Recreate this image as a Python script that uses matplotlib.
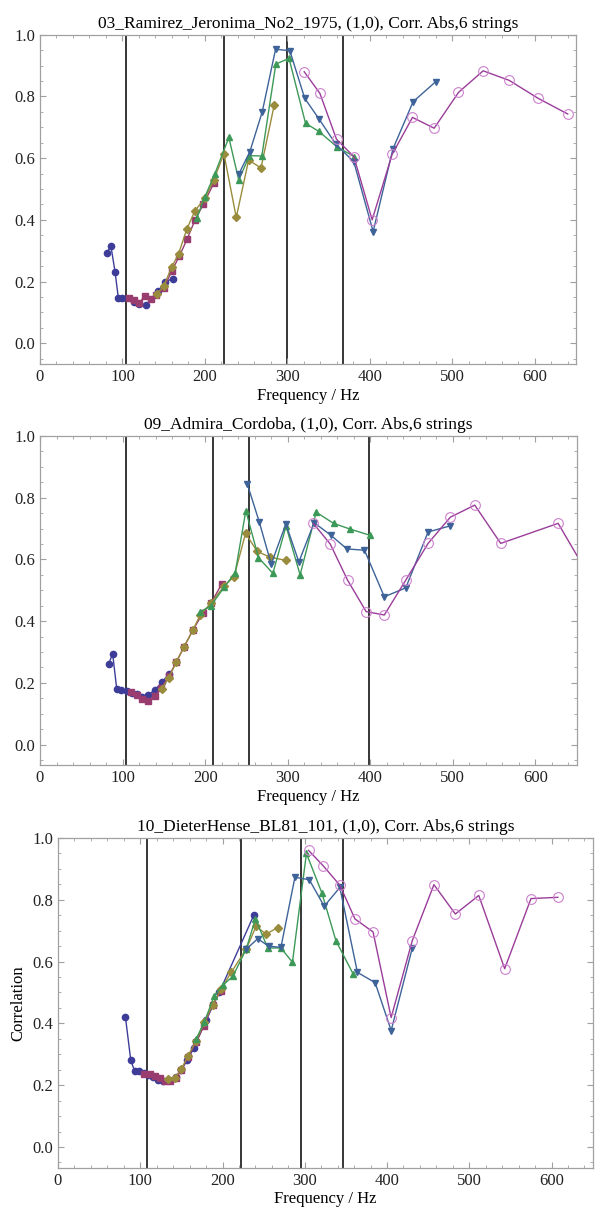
import numpy as np
import matplotlib
matplotlib.use("Agg")
import matplotlib.pyplot as plt
from matplotlib.ticker import MultipleLocator

plt.rcParams['font.family'] = ['Liberation Serif', 'DejaVu Serif']

titles = ["03_Ramirez_Jeronima_No2_1975, (1,0), Corr. Abs,6 strings",
          "09_Admira_Cordoba, (1,0), Corr. Abs,6 strings",
          "10_DieterHense_BL81_101, (1,0), Corr. Abs,6 strings"]

# string resonances (vertical lines), Hz
vlines_1 = [104.5, 223, 300, 368]
vlines_2 = [104.5, 210, 253.5, 398.5]
vlines_3 = [108, 223, 295, 347]

# ---- panel 1: 03_Ramirez ----
p1_s1_f = [81, 86, 91, 95, 100, 114, 120, 128, 143, 152, 161]
p1_s1_v = [0.294, 0.315, 0.232, 0.147, 0.147, 0.135, 0.127, 0.123, 0.168, 0.199, 0.21]
p1_s2_f = [108, 114, 120, 127, 134.5, 141, 150, 160, 169, 178.5, 188, 198, 211]
p1_s2_v = [0.147, 0.14, 0.13, 0.153, 0.142, 0.155, 0.178, 0.235, 0.283, 0.338, 0.40, 0.45, 0.52]
p1_s3_f = [142, 150, 160, 168, 178, 188, 200, 211, 223, 238, 253, 268, 284]
p1_s3_v = [0.16, 0.186, 0.248, 0.29, 0.37, 0.43, 0.47, 0.53, 0.615, 0.408, 0.594, 0.568, 0.772]
p1_s4_f = [190, 200, 212, 229, 241, 254, 269, 286, 302, 322, 338, 360, 381]
p1_s4_v = [0.405, 0.475, 0.549, 0.667, 0.529, 0.608, 0.607, 0.905, 0.923, 0.713, 0.687, 0.637, 0.605]
p1_s5_f = [241, 254.5, 269.5, 285.7, 303, 321, 338.6, 358.8, 380.6, 404, 428, 452.5, 480]
p1_s5_v = [0.548, 0.621, 0.75, 0.953, 0.948, 0.794, 0.726, 0.645, 0.588, 0.362, 0.63, 0.783, 0.848]
p1_s6_f = [320.4, 339.4, 359.6, 380.6, 402.8, 427, 451.7, 478, 507.5, 537.4, 569, 604, 640]
p1_s6_v = [0.88, 0.81, 0.661, 0.605, 0.40, 0.612, 0.732, 0.697, 0.813, 0.883, 0.852, 0.794, 0.743]

# ---- panel 2: 09_Admira ----
p2_s1_f = [83, 88, 93, 98, 105, 111, 117, 124, 131, 139, 148, 156]
p2_s1_v = [0.261, 0.294, 0.179, 0.178, 0.175, 0.168, 0.163, 0.155, 0.161, 0.177, 0.203, 0.229]
p2_s2_f = [110, 117, 124, 131, 139, 147, 156, 165, 174.5, 185, 197, 207, 220]
p2_s2_v = [0.171, 0.161, 0.149, 0.142, 0.158, 0.184, 0.222, 0.267, 0.317, 0.37, 0.425, 0.458, 0.52]
p2_s3_f = [147.5, 156, 165, 174.5, 185, 194, 207, 223, 235, 249, 263, 279, 298]
p2_s3_v = [0.18, 0.217, 0.267, 0.317, 0.37, 0.42, 0.458, 0.514, 0.544, 0.685, 0.626, 0.607, 0.597]
p2_s4_f = [194, 207, 223, 236.4, 249.3, 264.6, 282, 298, 315, 334.5, 355.5, 376, 400]
p2_s4_v = [0.43, 0.45, 0.51, 0.557, 0.758, 0.606, 0.555, 0.708, 0.55, 0.753, 0.717, 0.698, 0.678]
p2_s5_f = [251, 265.5, 280, 297.8, 313.5, 332, 352, 371.7, 393, 417, 443, 470, 497]
p2_s5_v = [0.845, 0.722, 0.585, 0.715, 0.592, 0.719, 0.679, 0.634, 0.63, 0.479, 0.508, 0.689, 0.709]
p2_s6_f = [331, 351.5, 372.5, 395, 417, 443, 470, 497, 526.5, 558, 627.5, 675]
p2_s6_v = [0.717, 0.65, 0.533, 0.431, 0.42, 0.533, 0.652, 0.737, 0.776, 0.652, 0.717, 0.50]

# ---- panel 3: 10_DieterHense ----
p3_s1_f = [82, 88.5, 93, 99, 104, 110, 116, 122, 128, 135, 143, 150, 157, 165, 180, 196, 238]
p3_s1_v = [0.42, 0.28, 0.247, 0.247, 0.238, 0.233, 0.226, 0.218, 0.212, 0.216, 0.225, 0.25, 0.28,
           0.32, 0.41, 0.50, 0.75]
p3_s2_f = [104.6, 111.5, 117.6, 123.6, 130, 136, 143, 150, 158, 168, 177, 188, 198]
p3_s2_v = [0.236, 0.235, 0.23, 0.222, 0.215, 0.215, 0.222, 0.25, 0.29, 0.34, 0.39, 0.46, 0.506]
p3_s3_f = [133.7, 141.8, 150, 158, 168, 178, 188, 198, 210.5, 228.7, 240.8, 253, 267]
p3_s3_v = [0.22, 0.222, 0.252, 0.295, 0.344, 0.406, 0.46, 0.51, 0.565, 0.64, 0.714, 0.689, 0.71]
p3_s4_f = [168, 178, 190, 201, 212.5, 228.7, 240, 255, 271, 285, 302, 320.8, 337.8, 358.8]
p3_s4_v = [0.35, 0.405, 0.49, 0.525, 0.552, 0.64, 0.738, 0.644, 0.644, 0.598, 0.95, 0.822, 0.668, 0.56]
p3_s5_f = [228.7, 242.8, 256, 271, 288, 305.5, 323.6, 342.6, 364, 385.5, 405, 430.7]
p3_s5_v = [0.64, 0.674, 0.65, 0.646, 0.873, 0.865, 0.779, 0.84, 0.565, 0.532, 0.377, 0.644]
p3_s6_f = [304.6, 322.4, 342.7, 361, 383, 405, 430.7, 457, 483, 511.5, 543, 575, 607.6]
p3_s6_v = [0.96, 0.91, 0.847, 0.738, 0.696, 0.419, 0.668, 0.849, 0.754, 0.814, 0.577, 0.804, 0.808]

c1 = (0.24, 0.24, 0.60)
c2 = (0.60, 0.24, 0.44)
c3 = (0.60, 0.55, 0.24)
c4 = (0.24, 0.60, 0.34)
c5 = (0.24, 0.39, 0.60)
c6 = (0.60, 0.24, 0.60)
c6m = (0.80, 0.50, 0.80)

panels = [
    (titles[0], vlines_1, [(p1_s1_f, p1_s1_v), (p1_s2_f, p1_s2_v), (p1_s3_f, p1_s3_v),
                           (p1_s4_f, p1_s4_v), (p1_s5_f, p1_s5_v), (p1_s6_f, p1_s6_v)],
     [40, 576, 34.7, 364], False),
    (titles[1], vlines_2, [(p2_s1_f, p2_s1_v), (p2_s2_f, p2_s2_v), (p2_s3_f, p2_s3_v),
                           (p2_s4_f, p2_s4_v), (p2_s5_f, p2_s5_v), (p2_s6_f, p2_s6_v)],
     [40, 576.7, 436, 765.3], False),
    (titles[2], vlines_3, [(p3_s1_f, p3_s1_v), (p3_s2_f, p3_s2_v), (p3_s3_f, p3_s3_v),
                           (p3_s4_f, p3_s4_v), (p3_s5_f, p3_s5_v), (p3_s6_f, p3_s6_v)],
     [58, 592.7, 838, 1167.7], True),
]

styles = [
    dict(color=c1, marker="o", ms=4.5, mec=c1, mfc=c1),
    dict(color=c2, marker="s", ms=4.0, mec=c2, mfc=c2),
    dict(color=c3, marker="D", ms=4.0, mec=c3, mfc=c3),
    dict(color=c4, marker="^", ms=4.5, mec=c4, mfc=c4),
    dict(color=c5, marker="v", ms=4.5, mec=c5, mfc=c5),
    dict(color=c6, marker="o", ms=7.0, mec=c6m, mfc="none", mew=0.8),
]

W, H = 600, 1211
fig = plt.figure(figsize=(W / 100, H / 100), dpi=100)
frame_col = "#a0a0a0"

for title, vl, series, (l, r, t, b), ylab in panels:
    ax = fig.add_axes([l / W, 1 - b / H, (r - l) / W, (b - t) / H])
    for xv in vl:
        ax.axvline(xv, color="black", lw=1.1, zorder=1)
    for (f, v), st in zip(series, styles):
        ax.plot(f, v, lw=1.0, zorder=3, **st)
    ax.set_xlim(0, 650)
    ax.set_ylim(-0.067, 1.0)
    ax.xaxis.set_major_locator(MultipleLocator(100))
    ax.xaxis.set_minor_locator(MultipleLocator(20))
    ax.yaxis.set_major_locator(MultipleLocator(0.2))
    ax.yaxis.set_minor_locator(MultipleLocator(0.05))
    ax.yaxis.set_major_formatter(matplotlib.ticker.FormatStrFormatter("%.1f"))
    ax.tick_params(which="both", direction="in", top=True, right=True, color=frame_col,
                   labelsize=12, labelcolor="#222222")
    ax.tick_params(which="major", length=4)
    ax.tick_params(which="minor", length=2)
    for s in ax.spines.values():
        s.set_color(frame_col)
        s.set_linewidth(0.9)
    ax.set_title(title, fontsize=12.5, pad=5)
    ax.set_xlabel("Frequency / Hz", fontsize=12, labelpad=2)
    if ylab:
        ax.set_ylabel("Correlation", fontsize=12, labelpad=4)

fig.savefig("out.png", dpi=100)
